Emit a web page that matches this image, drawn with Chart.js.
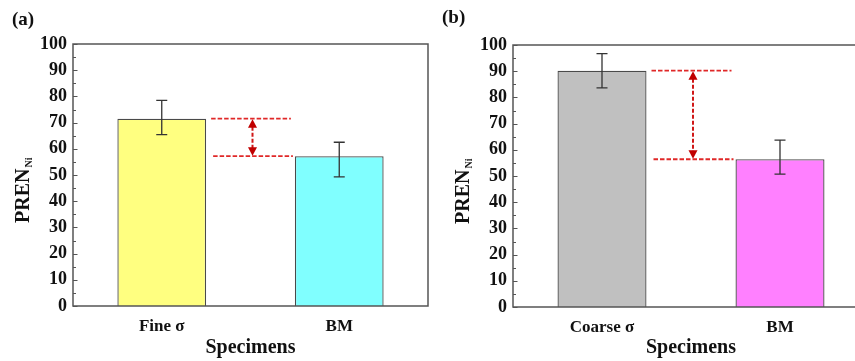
<!DOCTYPE html>
<html><head><meta charset="utf-8">
<script src="https://cdn.jsdelivr.net/npm/chart.js@4"></script>
<style>
html,body{margin:0;padding:0;background:#fff;overflow:hidden;width:855px;height:361px;position:relative;}
#wa{position:absolute;left:0;top:0;width:432px;height:361px;}
#wb{position:absolute;left:425px;top:0;width:446px;height:361px;}
</style></head><body>
<div id="wa"><canvas id="ca"></canvas></div>
<div id="wb"><canvas id="cb"></canvas></div>
<script>
// ---- data ----
const categoriesA = ['Fine σ', 'BM'];
const valuesA = [71.5, 57.2];
const errLowA = [65.4, 49.3];
const errHighA = [78.5, 62.5];
const colorsA = ['#FFFF80', '#80FFFF'];

const categoriesB = ['Coarse σ', 'BM'];
const valuesB = [90.2, 56.4];
const errLowB = [83.6, 50.7];
const errHighB = [96.7, 63.7];
const colorsB = ['#C0C0C0', '#FF80FF'];

const yMin = 0, yMax = 100, yStep = 10, yMinorStep = 5;
const xTitle = 'Specimens';
const yTitleMain = 'PREN', yTitleSub = 'Ni';
const panelLabels = ['(a)', '(b)'];

const SERIF = '"Liberation Serif", "Times New Roman", serif';

const decor = {
  id: 'decor',
  afterDatasetsDraw(chart, args, o) {
    const ctx = chart.ctx, ca = chart.chartArea;
    const y = chart.scales.y;
    const meta = chart.getDatasetMeta(0);
    // error bars
    ctx.save();
    ctx.strokeStyle = '#333'; ctx.lineWidth = 1.3;
    meta.data.forEach((bar, i) => {
      const yh = y.getPixelForValue(o.hi[i]), yl = y.getPixelForValue(o.lo[i]);
      ctx.beginPath();
      ctx.moveTo(bar.x, yh); ctx.lineTo(bar.x, yl);
      ctx.moveTo(bar.x - 5.5, yh); ctx.lineTo(bar.x + 5.5, yh);
      ctx.moveTo(bar.x - 5.5, yl); ctx.lineTo(bar.x + 5.5, yl);
      ctx.stroke();
    });
    ctx.restore();
    // difference indicator
    const b0 = meta.data[0], b1 = meta.data[1];
    const r0 = b0.x + b0.width / 2, l1 = b1.x - b1.width / 2;
    ctx.save();
    ctx.strokeStyle = '#E02828'; ctx.lineWidth = 1.8; ctx.setLineDash([4.5, 2]);
    ctx.beginPath();
    ctx.moveTo(r0 + 5, b0.y); ctx.lineTo(l1 - 4, b0.y);
    ctx.moveTo(r0 + 7, b1.y); ctx.lineTo(l1 - 2, b1.y);
    ctx.stroke();
    const ax = (r0 + l1) / 2 + 2;
    ctx.strokeStyle = '#D01818'; ctx.lineWidth = 2; ctx.setLineDash([4, 2]);
    ctx.beginPath(); ctx.moveTo(ax, b0.y + 8); ctx.lineTo(ax, b1.y - 8); ctx.stroke();
    ctx.setLineDash([]);
    ctx.fillStyle = '#C00000';
    ctx.beginPath(); ctx.moveTo(ax, b0.y + 0.5); ctx.lineTo(ax - 4.5, b0.y + 9); ctx.lineTo(ax + 4.5, b0.y + 9); ctx.closePath(); ctx.fill();
    ctx.beginPath(); ctx.moveTo(ax, b1.y - 0.5); ctx.lineTo(ax - 4.5, b1.y - 9); ctx.lineTo(ax + 4.5, b1.y - 9); ctx.closePath(); ctx.fill();
    ctx.restore();
  },
  afterDraw(chart, args, o) {
    const ctx = chart.ctx, ca = chart.chartArea;
    const y = chart.scales.y;
    ctx.save();
    // frame
    ctx.strokeStyle = '#555'; ctx.lineWidth = 1.5;
    ctx.strokeRect(ca.left, ca.top, ca.right - ca.left, ca.bottom - ca.top);
    // inward ticks on y axis
    ctx.lineWidth = 1;
    ctx.beginPath();
    for (let v = yMin; v <= yMax; v += yMinorStep) {
      const py = Math.round(y.getPixelForValue(v)) + 0.5;
      const len = (v % yStep === 0) ? 4.5 : 3;
      ctx.moveTo(ca.left, py); ctx.lineTo(ca.left + len, py);
    }
    ctx.stroke();
    // y title with subscript
    ctx.fillStyle = '#111';
    ctx.translate(ca.left - 44, ca.bottom - 83);
    ctx.rotate(-Math.PI / 2);
    ctx.textAlign = 'left'; ctx.textBaseline = 'alphabetic';
    ctx.font = 'bold 20px ' + SERIF;
    ctx.fillText(yTitleMain, 0, 0);
    const w = ctx.measureText(yTitleMain).width;
    ctx.font = 'bold 10px ' + SERIF;
    ctx.fillText(yTitleSub, w + 1, 3);
    ctx.restore();
    // panel label
    ctx.save();
    ctx.fillStyle = '#111';
    ctx.font = 'bold 19px ' + SERIF;
    ctx.textAlign = 'left'; ctx.textBaseline = 'middle';
    ctx.fillText(o.label, o.labelX, o.labelY);
    ctx.restore();
  }
};

function makeChart(id, cats, vals, lo, hi, colors, lay) {
  return new Chart(document.getElementById(id), {
    type: 'bar',
    data: {
      labels: cats,
      datasets: [{
        data: vals,
        backgroundColor: colors,
        borderColor: '#4a4a4a',
        borderWidth: 1.3,
        categoryPercentage: 1,
        barPercentage: 0.5
      }]
    },
    options: {
      responsive: true,
      maintainAspectRatio: false,
      animation: false,
      devicePixelRatio: 1,
      events: [],
      layout: { padding: { left: lay.padL, right: lay.padR, top: lay.padT, bottom: 0 } },
      plugins: {
        legend: { display: false },
        tooltip: { enabled: false },
        decor: { lo: lo, hi: hi, label: lay.label, labelX: lay.labelX, labelY: lay.labelY }
      },
      scales: {
        x: {
          grid: { display: false, drawTicks: false },
          border: { display: false },
          ticks: { color: '#111', padding: 10, font: { family: SERIF, size: 17, weight: 'bold' } },
          title: { display: true, text: xTitle, color: '#111', padding: { top: 0, bottom: 1 },
                   font: { family: SERIF, size: 20, weight: 'bold', lineHeight: 1.2 } },
          afterFit(s) { s.height = lay.xH; }
        },
        y: {
          min: yMin, max: yMax,
          grid: { display: false, drawTicks: false },
          border: { display: false },
          ticks: { stepSize: yStep, color: '#111', padding: 6, font: { family: SERIF, size: 18, weight: 'bold' } },
          afterFit(s) { s.width = 50; }
        }
      }
    },
    plugins: [decor]
  });
}

makeChart('ca', categoriesA, valuesA, errLowA, errHighA, colorsA,
  { padL: 23, padR: 4, padT: 44, xH: 55, label: panelLabels[0], labelX: 12, labelY: 20 });
makeChart('cb', categoriesB, valuesB, errLowB, errHighB, colorsB,
  { padL: 38, padR: 2, padT: 45, xH: 54, label: panelLabels[1], labelX: 17, labelY: 18 });
</script>
</body></html>
